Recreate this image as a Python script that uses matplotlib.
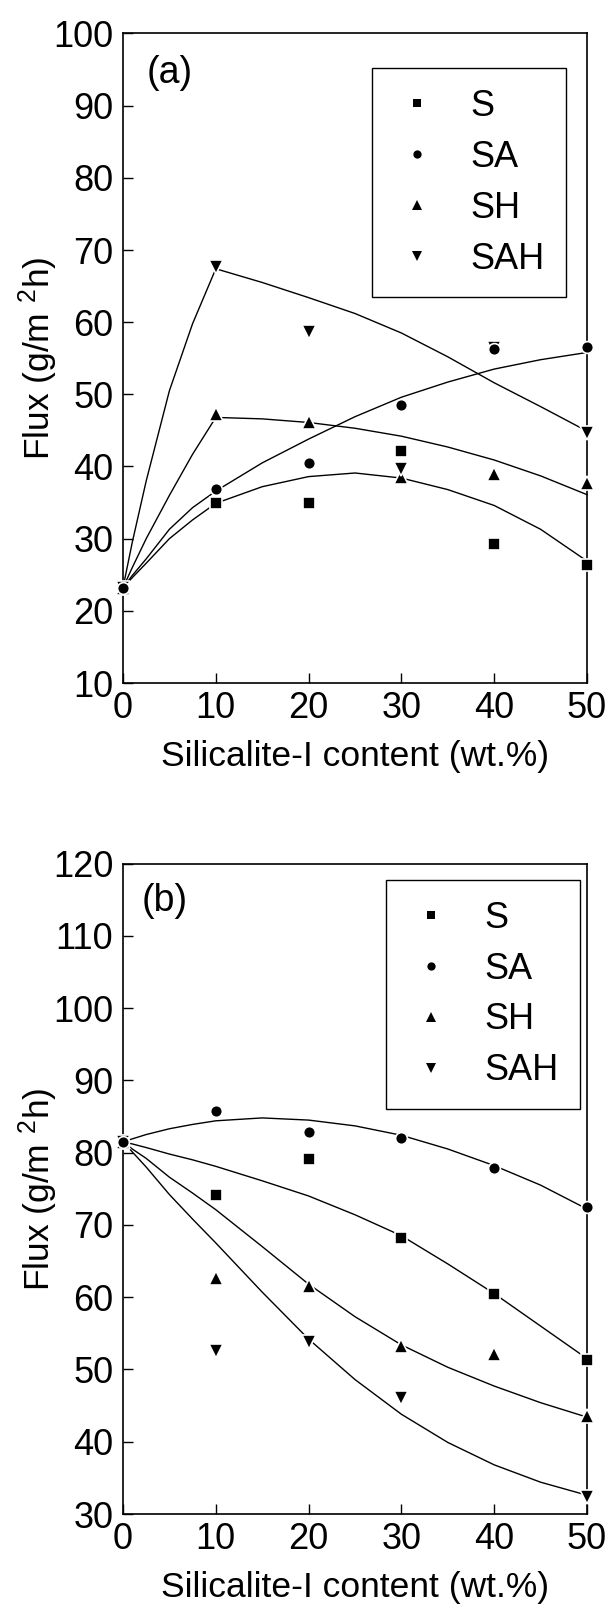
import matplotlib.pyplot as plt
import numpy as np

plt.rcParams['font.family'] = ['Liberation Sans', 'DejaVu Sans']
plt.rcParams['font.size'] = 26
plt.rcParams['axes.linewidth'] = 1.2

# measured points (wt.% vs flux)
x = [0, 10, 20, 30, 40, 50]

a_S = [23.1, 35.0, 35.0, 42.1, 29.2, 26.3]
a_SA = [23.1, 36.9, 40.5, 48.5, 56.3, 56.6]
a_SH = [23.1, 47.3, 46.2, 38.5, 38.9, 37.7]
a_SAH = [23.1, 67.6, 58.7, 39.6, 56.4, 44.7]

b_S = [81.5, 74.1, 79.1, 68.2, 60.4, 51.3]
b_SA = [81.5, 85.8, 82.9, 82.0, 77.9, 72.5]
b_SH = [81.5, 62.7, 61.5, 53.2, 52.1, 43.5]
b_SAH = [81.5, 52.6, 53.8, 46.1, np.nan, 32.3]

# trend lines
fit_x = [0, 1, 2.5, 5, 7.5, 10, 15, 20, 25, 30, 35, 40, 45, 50]

a_fit_S = [23.2, 24.6, 26.6, 30.0, 32.6, 34.9, 37.2, 38.6, 39.1, 38.4, 36.8, 34.6, 31.3, 26.9]
a_fit_SA = [23.2, 24.9, 27.2, 31.3, 34.3, 36.6, 40.5, 43.8, 46.9, 49.6, 51.7, 53.5, 54.8, 55.8]
a_fit_SH = [23.2, 26.0, 30.0, 36.0, 41.7, 46.8, 46.6, 46.1, 45.3, 44.2, 42.7, 40.9, 38.7, 36.1]
a_fit_SAH = [23.2, 29.5, 38.0, 50.5, 59.8, 67.4, 65.5, 63.4, 61.2, 58.5, 55.2, 51.6, 48.3, 44.9]

b_fit_S = [81.5, 81.2, 80.7, 79.8, 79.0, 78.1, 76.1, 74.0, 71.4, 68.5, 64.6, 60.5, 56.0, 51.5]
b_fit_SA = [81.5, 81.9, 82.5, 83.3, 83.9, 84.4, 84.8, 84.5, 83.7, 82.4, 80.5, 78.2, 75.5, 72.2]
b_fit_SH = [81.5, 80.5, 79.2, 76.6, 74.4, 72.1, 67.0, 61.8, 57.3, 53.4, 50.3, 47.7, 45.4, 43.4]
b_fit_SAH = [81.5, 80.1, 78.0, 74.2, 70.8, 67.5, 60.7, 54.2, 48.6, 43.8, 39.9, 36.8, 34.4, 32.6]

labels = ['S', 'SA', 'SH', 'SAH']
markers = ['s', 'o', '^', 'v']
msizes = [8, 8.5, 10, 10]
zorders = [3, 3.4, 3.1, 3.2]   # circle ends up on top where points coincide

fig = plt.figure(figsize=(6.12, 16.10), dpi=100)
ax1 = fig.add_axes([123/612, 1-683/1610, 464/612, 649.5/1610])
ax2 = fig.add_axes([123/612, 1-1514/1610, 464/612, 650.5/1610])


def draw(ax, pts, fits, ylim, tag, tagpos, legpos):
    for fit in fits:
        ax.plot(fit_x, fit, color='black', lw=1.0, clip_on=False)
    for y, m, ms, zo, lab in zip(pts, markers, msizes, zorders, labels):
        ax.plot(x, y, ls='none', marker=m, ms=ms, color='black',
                markeredgecolor='white', markeredgewidth=1.2,
                label=lab, clip_on=False, zorder=zo)
    ax.set_xlim(0, 50)
    ax.set_ylim(*ylim)
    ax.set_xticks(range(0, 51, 10))
    ax.set_yticks(range(ylim[0], ylim[1] + 1, 10))
    ax.tick_params(direction='in', length=7, width=1.0, labelsize=26,
                   top=False, right=False)
    ax.tick_params(axis='y', pad=7)
    ax.tick_params(axis='x', pad=6)
    ax.set_xlabel('Silicalite-I content (wt.%)', fontsize=25.5)
    ax.xaxis.set_label_coords(0.5, -0.088)
    ax.set_ylabel(r'Flux (g/m $\mathregular{^{2}}$h)', fontsize=25.5)
    ax.yaxis.set_label_coords(-0.135, 0.5)
    ax.text(tagpos[0], tagpos[1], tag, transform=ax.transAxes,
            ha='left', va='center', fontsize=27)
    leg = ax.legend(loc='upper left', bbox_to_anchor=legpos, borderaxespad=0,
                    fontsize=26, frameon=True, fancybox=False, framealpha=1,
                    edgecolor='black', borderpad=0.58, labelspacing=0.44,
                    handlelength=1.3, handletextpad=0.84, markerscale=0.7)
    leg.get_frame().set_linewidth(1.0)
    for h in leg.legend_handles:
        h.set_markeredgewidth(0)


draw(ax1, [a_S, a_SA, a_SH, a_SAH], [a_fit_S, a_fit_SA, a_fit_SH, a_fit_SAH],
     (10, 100), '(a)', (0.051, 0.939), (0.537, 0.947))
draw(ax2, [b_S, b_SA, b_SH, b_SAH], [b_fit_S, b_fit_SA, b_fit_SH, b_fit_SAH],
     (30, 120), '(b)', (0.04, 0.942), (0.567, 0.975))

fig.savefig('out.png', dpi=100)
